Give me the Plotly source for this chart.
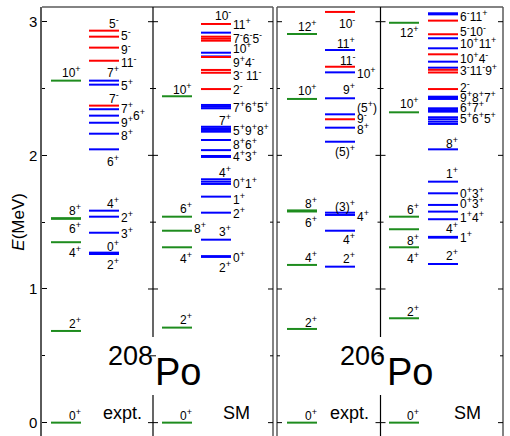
import re
import plotly.graph_objects as go

# ---------------- data: level energies (MeV) ----------------
# 208Po experiment
po208_expt_yrast = [0.0, 0.686, 1.350, 1.525, 1.530, 2.559]
po208_expt_pos = [2.559, 2.529, 2.345, 2.297, 2.244, 2.162, 2.045, 1.586, 1.541, 1.421, 1.272, 1.262]
po208_expt_neg = [2.933, 2.888, 2.806, 2.708, 2.372]
# 208Po shell model
po208_sm_yrast = [0.0, 0.711, 1.312, 1.436, 1.541, 2.442]
po208_sm_pos = [2.918, 2.768, 2.740, 2.377, 2.364, 2.352, 2.214, 2.202, 2.190, 2.177, 2.115, 2.039,
                1.995, 1.988, 1.821, 1.803, 1.786, 1.691, 1.571, 1.369, 1.246, 1.240]
po208_sm_neg = [2.983, 2.888, 2.873, 2.858, 2.736, 2.639, 2.618, 2.496]
# 206Po experiment
po206_expt_yrast = [0.0, 0.701, 1.180, 1.580, 1.588, 2.422, 2.908]
po206_expt_pos = [2.788, 2.621, 2.427, 2.307, 2.207, 2.102, 1.571, 1.554, 1.436, 1.167]
po206_expt_neg = [3.073, 2.663, 2.270]
# 206Po shell model
po206_sm_yrast = [0.0, 0.781, 1.312, 1.447, 1.541, 2.322, 2.992]
po206_sm_pos = [3.063, 3.055, 2.876, 2.801, 2.701, 2.656, 2.439, 2.430, 2.422, 2.352, 2.339, 2.327,
                2.285, 2.270, 2.252, 2.235, 2.045, 1.803, 1.716, 1.629, 1.579, 1.522, 1.390, 1.384, 1.187]
po206_sm_neg = [3.008, 2.906, 2.756, 2.640, 2.620, 2.496]

# spin-parity labels: (text, energy where the label sits, placement)
po208_expt_yrast_lab = [("0+", 0.058, "a"), ("2+", 0.744, "a"), ("4+", 1.275, "a"),
                        ("6+", 1.454, "a"), ("8+", 1.591, "a"), ("10+", 2.624, "a")]
po208_expt_lab = [("5-", 2.993, "a"), ("5-", 2.901, "r"), ("9-", 2.796, "r"), ("11-", 2.699, "r"),
                  ("7+", 2.624, "a"), ("5+", 2.527, "r"), ("7-", 2.429, "a"), ("7+", 2.354, "r"),
                  ("6+", 2.302, "r2"), ("9+", 2.250, "r"), ("8+", 2.152, "r"), ("6+", 1.960, "a"),
                  ("4+", 1.646, "a"), ("2+", 1.536, "r"), ("3+", 1.421, "r"), ("0+", 1.322, "a"),
                  ("2+", 1.187, "a")]
po208_sm_yrast_lab = [("0+", 0.058, "a"), ("2+", 0.774, "a"), ("4+", 1.230, "a"),
                      ("8+", 1.454, "r"), ("6+", 1.604, "a"), ("10+", 2.494, "a")]
po208_sm_lab = [("10-", 3.051, "a"), ("11+", 2.983, "r"), ("7-6-5-", 2.876, "r"), ("10+", 2.801, "r"),
                ("9+4-", 2.701, "r"), ("3- 11-", 2.601, "r"), ("2-", 2.494, "r"), ("7+6+5+", 2.364, "r"),
                ("7+", 2.264, "a"), ("5+9+8+", 2.189, "r"), ("8+6+", 2.085, "r"), ("4+3+", 1.995, "r"),
                ("4+", 1.877, "a"), ("0+1+", 1.791, "r"), ("1+", 1.672, "r"), ("2+", 1.571, "r"),
                ("3+", 1.436, "a"), ("0+", 1.242, "r"), ("2+", 1.167, "a")]
po206_expt_yrast_lab = [("0+", 0.058, "a"), ("2+", 0.755, "a"), ("4+", 1.242, "a"),
                        ("6+", 1.504, "a"), ("8+", 1.646, "a"), ("10+", 2.489, "a"), ("12+", 2.968, "a")]
po206_expt_lab = [("10-", 2.993, "a"), ("11+", 2.843, "a"), ("11-", 2.714, "a"), ("10+", 2.614, "r"),
                  ("9+", 2.494, "a"), ("(5+)", 2.359, "r"), ("9-", 2.277, "r"), ("8+", 2.194, "r"),
                  ("(5)+", 2.030, "a"), ("(3)+", 1.621, "a"), ("4+", 1.546, "r"), ("4+", 1.371, "a"),
                  ("2+", 1.229, "a")]
po206_sm_yrast_lab = [("0+", 0.058, "a"), ("2+", 0.837, "a"), ("4+", 1.230, "a"), ("8+", 1.367, "a"),
                      ("6+", 1.596, "a"), ("10+", 2.389, "a"), ("12+", 2.921, "a")]
po206_sm_lab = [("6-11+", 3.045, "r"), ("5-10-", 2.933, "r"), ("10+11+", 2.838, "r"), ("10+4-", 2.726, "r"),
                ("3-11-9+", 2.639, "r"), ("2-", 2.514, "r"), ("9+8+7+", 2.434, "r"), ("6+7+", 2.360, "r"),
                ("5+6+5+", 2.277, "r"), ("8+", 2.094, "a"), ("1+", 1.865, "a"), ("0+3+", 1.721, "r"),
                ("0+3+", 1.646, "r"), ("1+4+", 1.536, "r"), ("4+", 1.454, "a"), ("1+", 1.391, "r"),
                ("2+", 1.254, "a")]

y_ticks = [0, 1, 2, 3]
y_minor = [0.5, 1.5, 2.5]

# ---------------- layout helpers (pixel-like x units) ----------------
GREEN, BLUE, RED = "#1e8c1e", "#0000ff", "#ff0000"
FONT = "Liberation Sans, Arial, sans-serif"
YR = [-0.1, 3.11]
LABEL_SIZE = 12
SUP_SIZE = 9

columns = [
    ((51, 81), (89, 119), po208_expt_yrast, po208_expt_pos, po208_expt_neg, po208_expt_yrast_lab, po208_expt_lab),
    ((162, 192), (201, 231), po208_sm_yrast, po208_sm_pos, po208_sm_neg, po208_sm_yrast_lab, po208_sm_lab),
    ((287, 317), (325, 355), po206_expt_yrast, po206_expt_pos, po206_expt_neg, po206_expt_yrast_lab, po206_expt_lab),
    ((389, 419), (428, 458), po206_sm_yrast, po206_sm_pos, po206_sm_neg, po206_sm_yrast_lab, po206_sm_lab),
]


def seg(x0, x1, levels):
    xs, ys = [], []
    for e in levels:
        xs += [x0, x1, None]
        ys += [e, e, None]
    return xs, ys


def sup(s):
    return re.sub(r"([+-])", r'<sup><span style="font-size:%dpx">\1</span></sup>' % SUP_SIZE, s)


fig = go.Figure()
annotations = []
for gcol, mcol, yrast, pos, neg, ylab, mlab in columns:
    for (x0, x1), levels, color in [(gcol, yrast, GREEN), (mcol, pos, BLUE), (mcol, neg, RED)]:
        xs, ys = seg(x0, x1, levels)
        fig.add_trace(go.Scatter(x=xs, y=ys, mode="lines", line=dict(color=color, width=2),
                                 hoverinfo="skip", showlegend=False))
    for (x0, x1), labs in [(gcol, ylab), (mcol, mlab)]:
        for text, e, place in labs:
            if place == "a":
                xa, anch = x1 + 1, "right"
            elif place == "r":
                xa, anch = x1 + 1, "left"
            else:
                xa, anch = x1 + 13, "left"
            annotations.append(dict(x=xa, y=e, xref="x", yref="y", text=sup(text), showarrow=False,
                                    xanchor=anch, yanchor="middle", borderpad=0,
                                    font=dict(family=FONT, size=LABEL_SIZE, color="black")))

# panel captions
for xc, txt in [(122, "expt."), (236, "SM"), (349, "expt."), (467, "SM")]:
    annotations.append(dict(x=xc, y=0.07, xref="x", yref="y", text=txt, showarrow=False,
                            xanchor="center", yanchor="middle",
                            font=dict(family=FONT, size=18, color="black")))
for xd, mass in [(154, "208"), (386, "206")]:
    annotations.append(dict(x=xd, y=0.50, xref="x", yref="y", text=mass, showarrow=False,
                            xanchor="right", yanchor="middle", borderpad=0,
                            font=dict(family=FONT, size=27, color="black")))
    annotations.append(dict(x=xd, y=0.38, xref="x", yref="y", text="Po", showarrow=False,
                            xanchor="left", yanchor="middle", borderpad=0,
                            font=dict(family=FONT, size=38, color="black")))
annotations.append(dict(x=-0.051, y=0.5, xref="paper", yref="paper", text="<i>E</i>(MeV)",
                        textangle=-90, showarrow=False, xanchor="center", yanchor="middle",
                        font=dict(family=FONT, size=17, color="black")))

# frames, dividers and ticks
shapes = []
GRAY = "#5a5a5a"
for xb in [273, 277, 503]:
    shapes.append(dict(type="line", xref="x", yref="paper", x0=xb, x1=xb, y0=0, y1=1,
                       line=dict(color=GRAY, width=1.5)))
for xa, xb in [(42, 273), (277, 503)]:
    shapes.append(dict(type="line", xref="x", yref="paper", x0=xa, x1=xb, y0=1, y1=1,
                       line=dict(color=GRAY, width=1.5)))
for xd in [153, 380.5]:
    for ya, yb in [(YR[0], 0.207), (0.641, YR[1])]:
        shapes.append(dict(type="line", xref="x", yref="y", x0=xd, x1=xd, y0=ya, y1=yb,
                           line=dict(color="black", width=1.2)))
tick_specs = [(273, -1), (277, 1), (503, -1), (153, -1), (153, 1), (380.5, -1), (380.5, 1)]
for xb, d in tick_specs:
    for yv, ln in [(v, 5) for v in y_ticks] + [(v, 3) for v in y_minor]:
        shapes.append(dict(type="line", xref="x", yref="y", x0=xb, x1=xb + d * ln, y0=yv, y1=yv,
                           line=dict(color="black", width=1)))

fig.update_layout(
    width=510, height=436,
    margin=dict(l=42, r=0, t=7, b=0),
    paper_bgcolor="white", plot_bgcolor="white",
    annotations=annotations, shapes=shapes,
    xaxis=dict(range=[42, 510], visible=False, fixedrange=True),
    yaxis=dict(range=YR, tickvals=y_ticks, ticktext=[str(v) for v in y_ticks],
               ticks="inside", ticklen=5, tickcolor="black", tickwidth=1,
               showline=True, linecolor=GRAY, linewidth=1.5, showgrid=False, zeroline=False,
               tickfont=dict(family=FONT, size=15, color="black"),
               minor=dict(tickvals=y_minor, ticks="inside", ticklen=3, tickcolor="black")),
)

fig.write_html("out.html")
